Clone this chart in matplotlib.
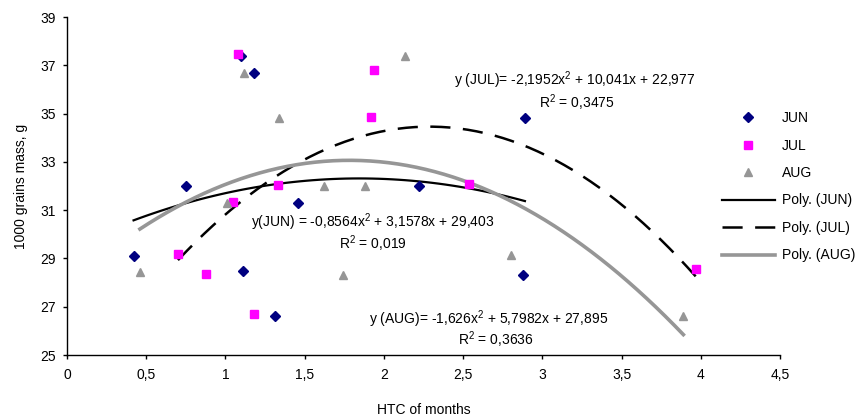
import numpy as np
import matplotlib
matplotlib.use('Agg')
import matplotlib.pyplot as plt
from matplotlib.ticker import FuncFormatter

plt.rcParams['font.family'] = ['Liberation Sans', 'DejaVu Sans']
plt.rcParams['mathtext.default'] = 'regular'
plt.rcParams['lines.scale_dashes'] = False

# HTC (x) and 1000 grains mass (y) per month
jun_x = [0.42, 0.75, 1.10, 1.18, 1.11, 1.31, 1.46, 2.22, 2.89, 2.88]
jun_y = [29.1, 32.0, 37.4, 36.7, 28.5, 26.6, 31.3, 32.0, 34.8, 28.3]

jul_x = [0.70, 0.88, 1.05, 1.08, 1.18, 1.33, 1.92, 1.94, 2.54, 3.97]
jul_y = [29.2, 28.35, 31.35, 37.45, 26.7, 32.05, 34.85, 36.8, 32.1, 28.55]

aug_x = [0.46, 1.01, 1.12, 1.34, 1.62, 1.74, 1.88, 2.13, 2.80, 3.89]
aug_y = [28.45, 31.3, 36.7, 34.8, 32.0, 28.3, 32.0, 37.4, 29.15, 26.6]

# polynomial trendline coefficients (from the chart labels)
jun_poly = [-0.8564, 3.1578, 29.403]
jul_poly = [-2.1952, 10.041, 22.977]
aug_poly = [-1.626, 5.7982, 27.895]

fig = plt.figure(figsize=(8.66, 4.19), dpi=100)
ax = fig.add_axes([0.0774, 0.1527, 0.8233, 0.8067])

ax.plot(jun_x, jun_y, 'D', color='#000080', markersize=4.6, linestyle='none', label='JUN', zorder=3)
ax.plot(jul_x, jul_y, 's', color='#FF00FF', markersize=5.6, linestyle='none', label='JUL', zorder=3)
ax.plot(aug_x, aug_y, '^', color='#969696', markersize=6.2, linestyle='none', label='AUG', zorder=3)

def trend(xs, coef):
    xx = np.linspace(min(xs), max(xs), 60)
    return xx, np.polyval(coef, xx)

xx, yy = trend(jun_x, jun_poly)
ax.plot(xx, yy, color='black', linewidth=1.6, label='Poly. (JUN)', zorder=2)
xx, yy = trend(jul_x, jul_poly)
ax.plot(xx, yy, color='black', linewidth=1.8, dashes=(14.5, 9), label='Poly. (JUL)', zorder=2)
xx, yy = trend(aug_x, aug_poly)
ax.plot(xx, yy, color='#969696', linewidth=2.6, label='Poly. (AUG)', zorder=2)

fs = 10
ax.text(3.204, 36.39, 'y (JUL)= -2,1952x$^2$ + 10,041x + 22,977', ha='center', va='center', fontsize=fs)
ax.text(3.215, 35.44, 'R$^2$ = 0,3475', ha='center', va='center', fontsize=fs)
ax.text(1.929, 30.51, 'y(JUN) = -0,8564x$^2$ + 3,1578x + 29,403', ha='center', va='center', fontsize=fs)
ax.text(1.932, 29.60, 'R$^2$ = 0,019', ha='center', va='center', fontsize=fs)
ax.text(2.661, 26.49, 'y (AUG)= -1,626x$^2$ + 5,7982x + 27,895', ha='center', va='center', fontsize=fs)
ax.text(2.708, 25.62, 'R$^2$ = 0,3636', ha='center', va='center', fontsize=fs)

ax.set_xlim(0, 4.5)
ax.set_ylim(25, 39)
ax.set_xticks(np.arange(0, 4.51, 0.5))
ax.set_yticks(np.arange(25, 39.1, 2))
ax.xaxis.set_major_formatter(FuncFormatter(lambda v, p: ('%g' % v).replace('.', ',')))
ax.tick_params(direction='out', length=3, width=1, labelsize=fs)
ax.tick_params(axis='x', pad=6.5)
ax.tick_params(axis='y', pad=5)
for s in ['top', 'right']:
    ax.spines[s].set_visible(False)
for s in ['left', 'bottom']:
    ax.spines[s].set_linewidth(1)

ax.set_xlabel('HTC of months', fontsize=fs, labelpad=15)
ax.set_ylabel('1000 grains mass, g', fontsize=fs, labelpad=9)

ax.legend(loc='upper left', bbox_to_anchor=(0.8337, 0.735), bbox_transform=fig.transFigure,
          frameon=False, fontsize=fs, handlelength=3.8, handletextpad=0.5,
          labelspacing=0.97, borderpad=0, borderaxespad=0)

fig.savefig('out.png', dpi=100)
